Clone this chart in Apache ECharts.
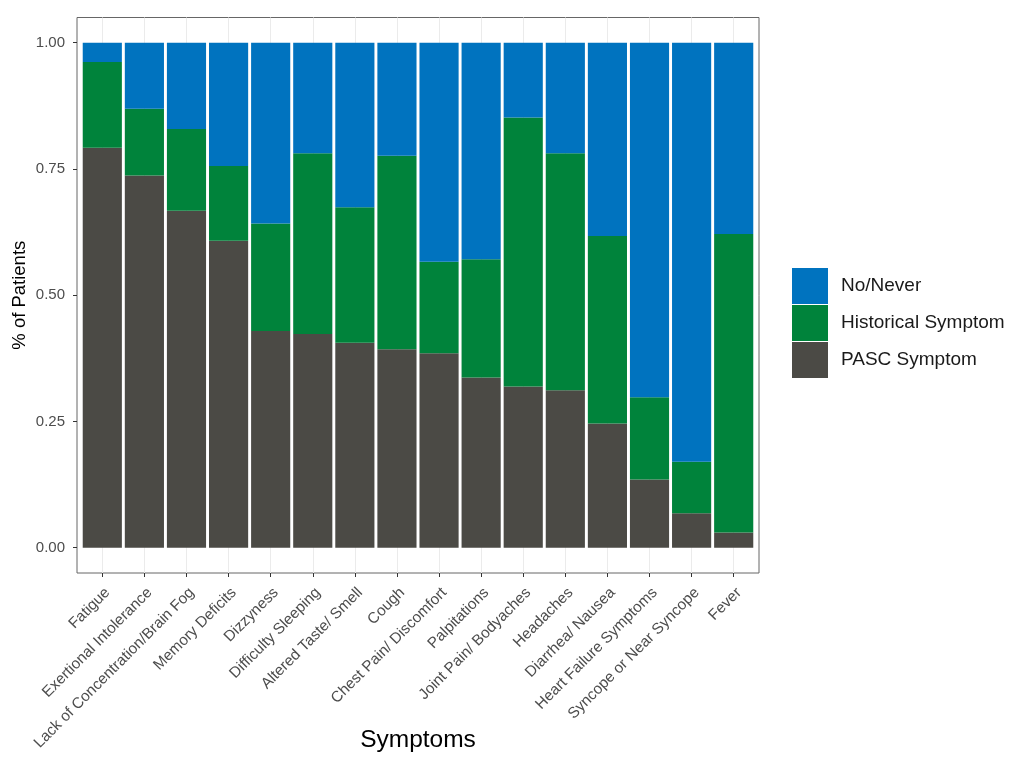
<!DOCTYPE html>
<html><head><meta charset="utf-8">
<script src="https://cdn.jsdelivr.net/npm/echarts@6/dist/echarts.min.js"></script>
<style>html,body{margin:0;padding:0;background:#fff}#c{width:1014px;height:764px}</style>
</head><body><div id="c"></div>
<script>
const categories = ['Fatigue','Exertional Intolerance','Lack of Concentration/Brain Fog','Memory Deficits','Dizzyness','Difficulty Sleeping','Altered Taste/ Smell','Cough','Chest Pain/ Discomfort','Palpitations','Joint Pain/ Bodyaches','Headaches','Diarrhea/ Nausea','Heart Failure Symptoms','Syncope or Near Syncope','Fever'];
const pasc = [0.792,0.737,0.667,0.608,0.429,0.423,0.406,0.393,0.385,0.337,0.319,0.312,0.246,0.135,0.068,0.030];
const historical = [0.170,0.132,0.162,0.148,0.213,0.358,0.268,0.383,0.181,0.234,0.533,0.469,0.371,0.163,0.102,0.591];
const never = [0.038,0.131,0.171,0.244,0.358,0.219,0.326,0.224,0.434,0.429,0.148,0.219,0.383,0.702,0.830,0.379];
const yTicks = [0, 0.25, 0.5, 0.75, 1.0];
const seriesNames = ['PASC Symptom','Historical Symptom','No/Never'];
const legendOrder = ['No/Never','Historical Symptom','PASC Symptom'];
const colors = {'PASC Symptom':'#4b4a45','Historical Symptom':'#00833b','No/Never':'#0073bf'};

const chart = echarts.init(document.getElementById('c'), null, {renderer:'canvas'});
const font = 'Liberation Sans, Arial, Helvetica, sans-serif';
const values = [pasc, historical, never];
chart.setOption({
  animation:false,
  backgroundColor:'#fff',
  textStyle:{fontFamily:font},
  grid:[
    {left:77, top:17.5, width:682, height:555.5, show:true, borderColor:'#666', borderWidth:1, backgroundColor:'transparent', outerBoundsMode:'none', containLabel:false},
    {left:102.3, top:17.5, width:631.4, height:555.5, outerBoundsMode:'none', containLabel:false},
    {left:102.3, top:42.7, width:631.4, height:505, outerBoundsMode:'none', containLabel:false}
  ],
  xAxis:[
    {gridIndex:0, type:'value', min:0, max:1, show:false},
    {gridIndex:1, type:'category', data:categories, boundaryGap:false,
     axisLine:{show:false},
     axisTick:{show:true, length:4, lineStyle:{color:'#333'}},
     splitLine:{show:true, lineStyle:{color:'#ebebeb', width:1}},
     axisLabel:{rotate:45, interval:0, margin:12, verticalAlign:'top', color:'#4d4d4d', fontSize:15.3, fontFamily:font},
     name:'Symptoms', nameLocation:'middle', nameGap:155, nameMoveOverlap:false,
     nameTextStyle:{fontSize:24.5, color:'#000', fontFamily:font}},
    {gridIndex:2, type:'category', data:categories, boundaryGap:false, show:false}
  ],
  yAxis:[
    {gridIndex:0, type:'value', min:0, max:1, show:false},
    {gridIndex:1, type:'value', min:0, max:1, show:false},
    {gridIndex:2, type:'value', min:0, max:1, interval:0.25, offset:25.3,
     axisLine:{show:false},
     axisTick:{show:true, length:4, lineStyle:{color:'#333'}},
     splitLine:{show:false},
     axisLabel:{margin:12, color:'#4d4d4d', fontSize:15, fontFamily:font,
       formatter:v => yTicks.includes(v) ? v.toFixed(2) : ''},
     name:'% of Patients', nameLocation:'middle', nameRotate:90, nameGap:48, nameMoveOverlap:false,
     nameTextStyle:{fontSize:18.5, color:'#000', fontFamily:font}}
  ],
  legend:{
    orient:'vertical', left:792, top:268, padding:0, itemWidth:36, itemHeight:36, itemGap:1,
    icon:'rect', data:legendOrder,
    textStyle:{fontSize:19, color:'#1a1a1a', fontFamily:font, padding:[0,0,0,8]}
  },
  series: seriesNames.map((n,i)=>({
    name:n, type:'bar', stack:'all', xAxisIndex:2, yAxisIndex:2,
    barWidth:'93%', clip:false, data:values[i],
    itemStyle:{color:colors[n]}
  }))
});
</script></body></html>
